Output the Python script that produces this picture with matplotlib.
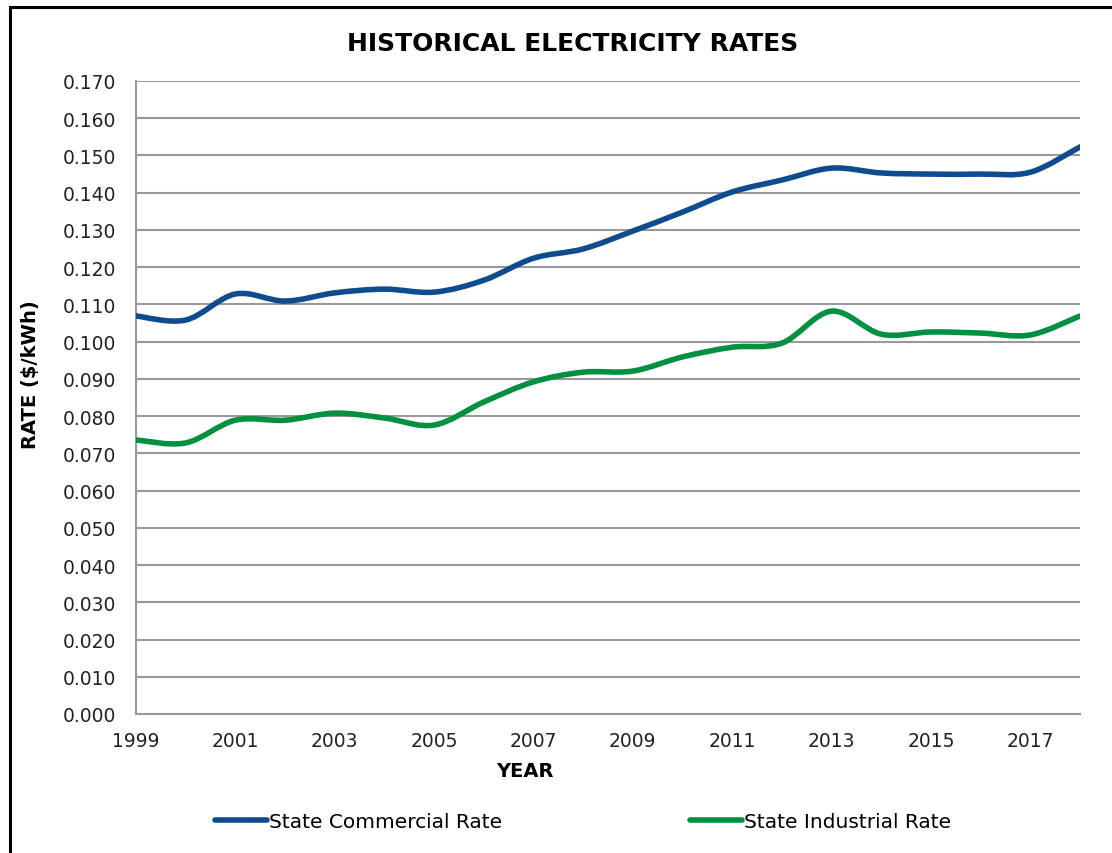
import matplotlib
matplotlib.use('Agg')
import matplotlib.pyplot as plt
from matplotlib.path import Path
from matplotlib.patches import PathPatch, Rectangle
from matplotlib.lines import Line2D
import numpy as np

years = list(range(1999, 2019))
commercial = [0.1069, 0.1058, 0.1128, 0.1109, 0.1131, 0.1141, 0.1133, 0.1165, 0.1224, 0.1249,
              0.1297, 0.1348, 0.1402, 0.1434, 0.1466, 0.1453, 0.1450, 0.1450, 0.1455, 0.1523]
industrial = [0.0736, 0.0728, 0.0789, 0.0789, 0.0808, 0.0795, 0.0776, 0.0838, 0.0892, 0.0918,
              0.0921, 0.0959, 0.0985, 0.0996, 0.1082, 0.1020, 0.1026, 0.1023, 0.1018, 0.1069]
yticks = [i / 1000 for i in range(0, 171, 10)]

BLUE = '#0E4C8F'
GREEN = '#00903F'
GRID = '#999999'

plt.rcParams['font.family'] = ['DejaVu Sans']


def smooth_path(x, y):
    # Excel-style smoothed line: cubic bezier through every point
    p = np.column_stack([x, y]).astype(float)
    ext = np.vstack([p[0], p, p[-1]])
    verts = [p[0]]
    codes = [Path.MOVETO]
    for i in range(len(p) - 1):
        p0, p1, p2, p3 = ext[i], ext[i + 1], ext[i + 2], ext[i + 3]
        c1 = p1 + (p2 - p0) / 6.0
        c2 = p2 - (p3 - p1) / 6.0
        verts += [c1, c2, p2]
        codes += [Path.CURVE4] * 3
    return Path(verts, codes)


fig = plt.figure(figsize=(11.12, 8.54), dpi=100)
ax = fig.add_axes([136 / 1112, 1 - 715 / 854, (1080 - 136) / 1112, (715 - 82) / 854])

for vals, col in [(commercial, BLUE), (industrial, GREEN)]:
    ax.add_patch(PathPatch(smooth_path(years, vals), fill=False, edgecolor=col,
                           lw=4.0, capstyle='round', joinstyle='round', zorder=3))

ax.set_xlim(1999, 2018)
ax.set_ylim(0, 0.170)
ax.set_yticks(yticks)
ax.set_yticklabels([f'{v:.3f}' for v in yticks])
ax.set_xticks(list(range(1999, 2018, 2)))
ax.tick_params(axis='both', length=0, labelsize=13.5, colors='#222222')
ax.tick_params(axis='y', pad=14)
ax.tick_params(axis='x', pad=12)
ax.grid(axis='y', color=GRID, lw=1.5)
ax.set_axisbelow(True)
for s in ['top', 'right']:
    ax.spines[s].set_visible(False)
for s in ['left', 'bottom']:
    ax.spines[s].set_color(GRID)
    ax.spines[s].set_linewidth(1.5)

ax.set_xlabel('YEAR', fontsize=14, fontweight='bold')
ax.xaxis.set_label_coords((525 - 136) / 944, -0.075)
ax.set_ylabel('RATE ($/kWh)', fontsize=14, fontweight='bold')
ax.yaxis.set_label_coords((40 - 136) / 944, (715 - 375) / 633)

fig.text(573 / 1112, 1 - 44 / 854, 'HISTORICAL ELECTRICITY RATES', ha='center', va='center',
         fontsize=18, fontweight='bold')

handles = [Line2D([], [], color=BLUE, lw=4.0, solid_capstyle='round'),
           Line2D([], [], color=GREEN, lw=4.0, solid_capstyle='round')]
fig.legend(handles, ['State Commercial Rate', 'State Industrial Rate'], ncol=2,
           loc='center', bbox_to_anchor=(583 / 1112, 1 - 823 / 854), frameon=False,
           fontsize=14.5, handlelength=2.6, handletextpad=0.1, columnspacing=9.3)

# outer frame (runs off the right and bottom edges)
fig.patches.append(Rectangle((10 / 1112, -0.05), 1.1, 1 - 8 / 854 + 0.05, transform=fig.transFigure,
                             fill=False, edgecolor='black', lw=2.2))

plt.savefig('out.png', dpi=100)
